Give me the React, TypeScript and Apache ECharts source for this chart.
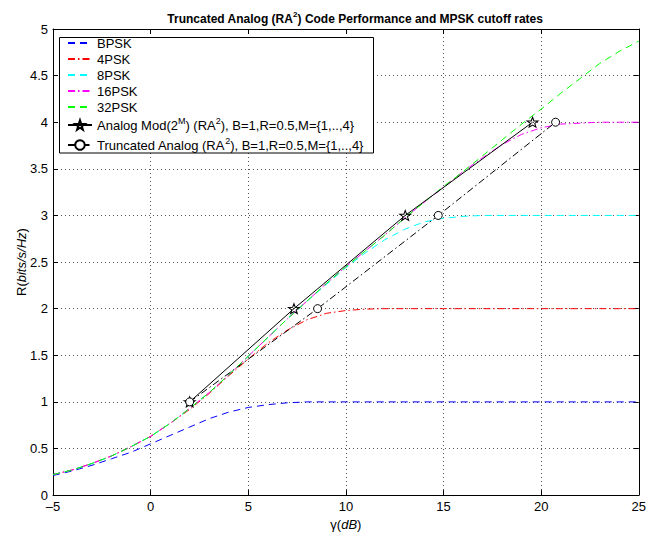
import React, { useEffect, useRef } from "react";
import * as echarts from "echarts";

// gamma in dB (x values)
const gammaDb = [-5, -4, -3, -2, -1, 0, 1, 2, 3, 4, 5, 6, 7, 8, 9, 10, 11, 12, 13, 14, 15, 16, 17, 18, 19, 20, 21, 22, 23, 24, 25];

// MPSK cutoff rates (bits/s/Hz)
const bpsk = [0.21, 0.26, 0.32, 0.39, 0.46, 0.55, 0.64, 0.73, 0.82, 0.89, 0.94, 0.97, 0.99, 1.0, 1.0, 1.0, 1.0, 1.0, 1.0, 1.0, 1.0, 1.0, 1.0, 1.0, 1.0, 1.0, 1.0, 1.0, 1.0, 1.0, 1.0];
const psk4 = [0.22, 0.27, 0.34, 0.42, 0.52, 0.63, 0.77, 0.92, 1.09, 1.28, 1.46, 1.63, 1.77, 1.88, 1.95, 1.98, 1.995, 2.0, 2.0, 2.0, 2.0, 2.0, 2.0, 2.0, 2.0, 2.0, 2.0, 2.0, 2.0, 2.0, 2.0];
const psk8 = [0.22, 0.27, 0.34, 0.42, 0.52, 0.63, 0.77, 0.93, 1.1, 1.29, 1.49, 1.69, 1.89, 2.08, 2.26, 2.44, 2.6, 2.74, 2.85, 2.93, 2.97, 2.99, 3.0, 3.0, 3.0, 3.0, 3.0, 3.0, 3.0, 3.0, 3.0];
const psk16 = [0.22, 0.27, 0.34, 0.42, 0.52, 0.63, 0.77, 0.93, 1.1, 1.29, 1.49, 1.69, 1.89, 2.08, 2.27, 2.45, 2.62, 2.79, 2.97, 3.14, 3.3, 3.47, 3.62, 3.76, 3.87, 3.94, 3.98, 3.99, 4.0, 4.0, 4.0];
const psk32 = [0.22, 0.27, 0.34, 0.42, 0.52, 0.63, 0.77, 0.93, 1.1, 1.29, 1.49, 1.69, 1.89, 2.08, 2.27, 2.45, 2.62, 2.79, 2.97, 3.14, 3.31, 3.47, 3.64, 3.81, 3.98, 4.14, 4.31, 4.47, 4.63, 4.76, 4.87];

// Code performance points
const analogX = [2, 7.34, 13.04, 19.56];
const analogY = [1, 2, 3, 4];
const truncX = [2, 8.55, 14.73, 20.74];
const truncY = [1, 2, 3, 4];

const seriesNames = [
  "BPSK",
  "4PSK",
  "8PSK",
  "16PSK",
  "32PSK",
  "Analog Mod(2M) (RA2), B=1,R=0.5,M={1,..,4}",
  "Truncated Analog (RA2), B=1,R=0.5,M={1,..,4}",
];
const legendRich: Record<string, string> = {
  [seriesNames[5]]: "{t|Analog Mod(2}{s|M}{t|) (RA}{s|2}{t|), B=1,R=0.5,M=}{1,..,4}",
  [seriesNames[6]]: "{t|Truncated Analog (RA}{s|2}{t|), B=1,R=0.5,M=}{1,..,4}",
};

const FONT = "'Liberation Sans', Arial, Helvetica, sans-serif";
const STAR =
  "path://M0,-10L2.35,-3.24L9.51,-3.09L3.8,1.24L5.88,8.09L0,4.3L-5.88,8.09L-3.8,1.24L-9.51,-3.09L-2.35,-3.24Z";

const pairs = (xs: number[], ys: number[]) => xs.map((x, i) => [x, ys[i]]);

export default function App() {
  const ref = useRef<HTMLDivElement>(null);
  useEffect(() => {
    if (!ref.current) return;
    const chart = echarts.init(ref.current, undefined, { renderer: "svg" });
    const dash = [7, 5];
    const dashDot = [7, 3, 1.5, 3];
    const mpsk = (name: string, ys: number[], color: string, type: any) => ({
      name,
      type: "line",
      data: pairs(gammaDb, ys),
      symbol: "none",
      smooth: false,
      lineStyle: { color, width: 1, type },
      itemStyle: { color },
    });
    const axisCommonX = { type: "value", min: -5, max: 25, interval: 5 };
    const axisCommonY = { type: "value", min: 0, max: 5, interval: 0.5 };
    const nameStyle = {
      fontFamily: FONT,
      fontSize: 13,
      color: "#000",
      rich: {
        n: { fontFamily: FONT, fontSize: 13, color: "#000" },
        i: { fontFamily: FONT, fontSize: 13, fontStyle: "italic", color: "#000" },
      },
    };
    const hiddenSymbol = { opacity: 0, color: "rgba(0,0,0,0)", borderWidth: 0 };
    chart.setOption({
      animation: false,
      backgroundColor: "#fff",
      title: {
        text: "{t|Truncated Analog (RA}{s|2}{t|) Code Performance and MPSK cutoff rates}",
        left: 350,
        top: 5,
        textAlign: "center",
        textStyle: {
          fontFamily: FONT,
          fontSize: 12,
          fontWeight: "bold",
          color: "#000",
          rich: {
            t: { fontFamily: FONT, fontSize: 12, fontWeight: "bold", color: "#000", lineHeight: 17 },
            s: { fontFamily: FONT, fontSize: 8, fontWeight: "bold", color: "#000", lineHeight: 8, verticalAlign: "top" },
          },
        },
      },
      grid: { left: 53, right: 3, top: 29, bottom: 37, containLabel: false },
      legend: {
        orient: "vertical",
        left: 67,
        top: 36.5,
        padding: 0,
        itemGap: 3,
        itemWidth: 24,
        itemHeight: 12,
        z: 5,
        data: seriesNames.map((name, i) => (i < 5 ? { name, itemStyle: hiddenSymbol } : { name })),
        formatter: (n: string) => legendRich[n] || n,
        textStyle: {
          fontFamily: FONT,
          fontSize: 13,
          lineHeight: 13,
          color: "#000",
          rich: {
            t: { fontFamily: FONT, fontSize: 13, color: "#000", lineHeight: 17 },
            s: { fontFamily: FONT, fontSize: 9, color: "#000", lineHeight: 8, verticalAlign: "top" },
          },
        },
      },
      graphic: [
        {
          type: "rect",
          z: 3,
          shape: { x: 59.5, y: 37.5, width: 314, height: 115.5 },
          style: { fill: "#fff", stroke: "#000", lineWidth: 1 },
        },
      ],
      xAxis: [
        {
          ...axisCommonX,
          position: "bottom",
          name: "{n|γ(}{i|dB}{n|)}",
          nameLocation: "middle",
          nameGap: 19,
          nameTextStyle: nameStyle,
          axisLine: { show: true, onZero: false, lineStyle: { color: "#000", width: 1 } },
          axisTick: { show: true, inside: true, length: 5, lineStyle: { color: "#000" } },
          axisLabel: {
            margin: 5,
            fontFamily: FONT,
            fontSize: 13,
            color: "#000",
            formatter: (v: number) => (v < 0 ? "\u2013" + Math.abs(v) : String(v)),
          },
          splitLine: { show: true, lineStyle: { color: "#555", width: 1, type: [1, 3] } },
        },
        {
          ...axisCommonX,
          position: "top",
          axisLine: { show: true, onZero: false, lineStyle: { color: "#000", width: 1 } },
          axisTick: { show: true, inside: true, length: 5, lineStyle: { color: "#000" } },
          axisLabel: { show: false },
          splitLine: { show: false },
        },
      ],
      yAxis: [
        {
          ...axisCommonY,
          position: "left",
          name: "{n|R(}{i|bits/s/Hz}{n|)}",
          nameLocation: "middle",
          nameGap: 25,
          nameMoveOverlap: false,
          nameRotate: 90,
          nameTextStyle: nameStyle,
          axisLine: { show: true, onZero: false, lineStyle: { color: "#000", width: 1 } },
          axisTick: { show: true, inside: true, length: 5, lineStyle: { color: "#000" } },
          axisLabel: { margin: 5, fontFamily: FONT, fontSize: 13, color: "#000" },
          splitLine: { show: true, lineStyle: { color: "#555", width: 1, type: [1, 3] } },
        },
        {
          ...axisCommonY,
          position: "right",
          axisLine: { show: true, onZero: false, lineStyle: { color: "#000", width: 1 } },
          axisTick: { show: true, inside: true, length: 5, lineStyle: { color: "#000" } },
          axisLabel: { show: false },
          splitLine: { show: false },
        },
      ],
      series: [
        mpsk(seriesNames[0], bpsk, "#0000ff", dash),
        mpsk(seriesNames[1], psk4, "#ff0000", dashDot),
        mpsk(seriesNames[2], psk8, "#00ffff", dash),
        mpsk(seriesNames[3], psk16, "#ff00ff", dashDot),
        mpsk(seriesNames[4], psk32, "#00ff00", dash),
        {
          name: seriesNames[5],
          type: "line",
          data: pairs(analogX, analogY),
          symbol: STAR,
          symbolSize: [11, 10],
          showSymbol: true,
          lineStyle: { color: "#000", width: 1, type: "solid" },
          itemStyle: { color: "rgba(255,255,255,0)", borderColor: "#000", borderWidth: 1 },
          z: 3,
        },
        {
          name: seriesNames[6],
          type: "line",
          data: pairs(truncX, truncY),
          symbol: "circle",
          symbolSize: 8,
          showSymbol: true,
          lineStyle: { color: "#000", width: 1, type: dashDot },
          itemStyle: { color: "#fff", borderColor: "#000", borderWidth: 1 },
          z: 3,
        },
      ],
    });
    return () => chart.dispose();
  }, []);
  return <div ref={ref} style={{ width: 649, height: 536, position: "absolute", left: 0, top: 0 }} />;
}
